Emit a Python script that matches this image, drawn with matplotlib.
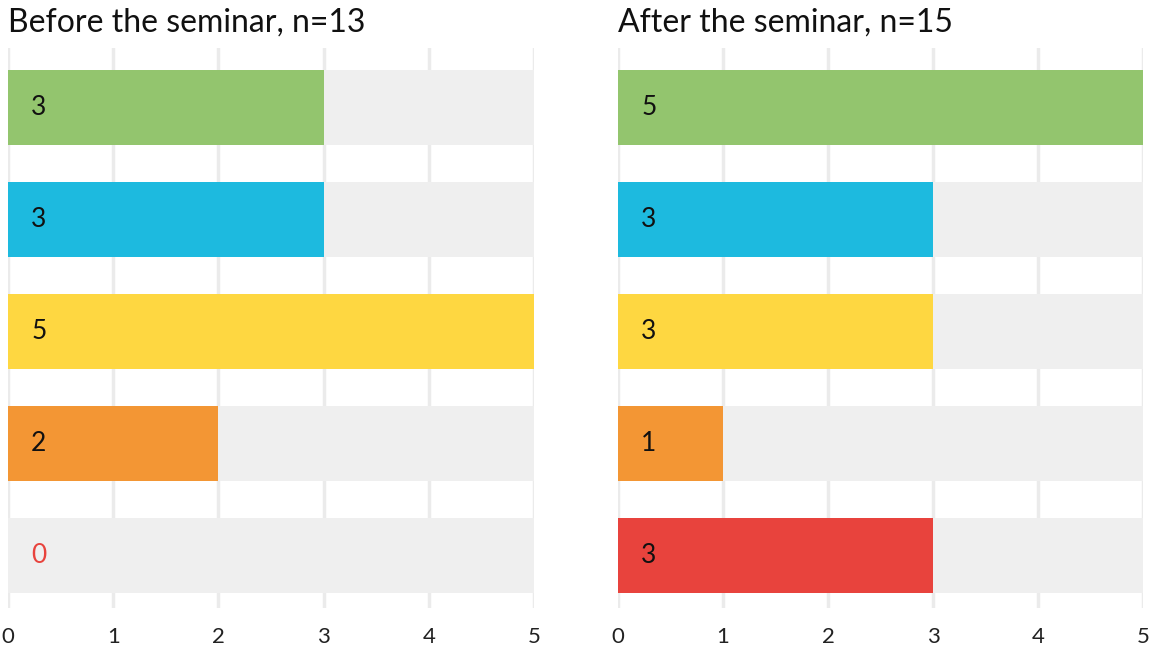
import matplotlib.pyplot as plt

plt.rcParams["font.family"] = ["Lato", "DejaVu Sans"]

colors = ["#93c56e", "#1dbadf", "#fed741", "#f39634", "#e8433d"]
before = [3, 3, 5, 2, 0]
after = [5, 3, 3, 1, 3]
titles = ["Before the seminar, n=13", "After the seminar, n=15"]
xmax = 5

fig = plt.figure(figsize=(11.53, 6.5), dpi=100)
ax1 = fig.add_axes([0.00694, 0.0646, 0.4562, 0.8615])
ax2 = fig.add_axes([0.536, 0.0646, 0.4553, 0.8615])

for ax, vals, title in zip([ax1, ax2], [before, after], titles):
    pos = range(len(vals))
    # grey background track
    ax.barh(pos, [xmax] * len(vals), height=0.67, color="#efefef", zorder=1)
    ax.barh(pos, vals, height=0.67, color=colors, zorder=2)
    for i, v in enumerate(vals):
        ax.text(0.22, i, str(v), va="center", ha="left", fontsize=19,
                color="#e8433d" if v == 0 else "#111111", zorder=3)
    ax.set_xlim(0, xmax)
    ax.set_ylim(4.469, -0.531)
    ax.set_xticks(range(xmax + 1))
    ax.set_yticks([])
    ax.grid(axis="x", color="#ebebeb", linewidth=2.5, zorder=0)
    ax.set_axisbelow(True)
    for s in ax.spines.values():
        s.set_visible(False)
    ax.tick_params(axis="x", length=0, pad=14, labelsize=16, labelcolor="#222222")
    ax.set_title(title, loc="left", fontsize=23, color="#111111", pad=12, x=0)

fig.savefig("out.png", dpi=100)
